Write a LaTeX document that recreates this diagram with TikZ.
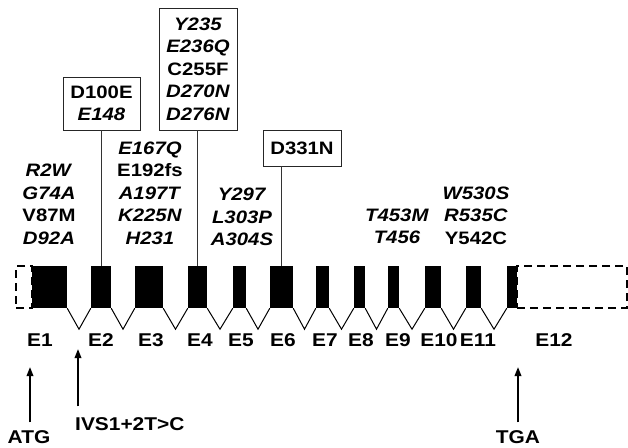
\documentclass[tikz,border=0pt]{standalone}
\usepackage{fontspec}
\setmainfont[FakeStretch=1.13]{Liberation Sans}
\usetikzlibrary{arrows.meta,calc}
\newcommand\mi[1]{\textit{#1}}
\begin{document}
\begin{tikzpicture}[x=1pt,y=-1pt,
  exon/.style={fill=black,inner sep=0,minimum height=42pt},
  utr/.style={draw,dash pattern=on 8pt off 5pt,line width=1.4pt,inner sep=0,minimum height=42pt},
  intron/.style={line width=1pt},
  mut/.style={font=\fontsize{18}{22.5}\selectfont\bfseries,align=center,inner sep=0},
  mbox/.style={mut,draw=black!85,line width=0.7pt},
  lbl/.style={font=\fontsize{18.5}{22}\selectfont\bfseries,inner sep=0},
  arr/.style={line width=1.8pt,-{Triangle[length=9pt,width=6.5pt]}},
  stem/.style={line width=0.7pt,draw=black!80}
]
\useasboundingbox (0,0) rectangle (628,447);
% exons
\node[utr,minimum width=16pt] (u5) at (24,287) {};
\node[utr,minimum width=110pt] (u3) at (572,287) {};
\node[exon,minimum width=35pt] (e1) at (49.5,287) {};
\node[exon,minimum width=20pt] (e2) at (101,287) {};
\node[exon,minimum width=28pt] (e3) at (149,287) {};
\node[exon,minimum width=19pt] (e4) at (197.5,287) {};
\node[exon,minimum width=13pt] (e5) at (239.5,287) {};
\node[exon,minimum width=23pt] (e6) at (281.5,287) {};
\node[exon,minimum width=13pt] (e7) at (322.5,287) {};
\node[exon,minimum width=11pt] (e8) at (359.5,287) {};
\node[exon,minimum width=11pt] (e9) at (393.5,287) {};
\node[exon,minimum width=16pt] (e10) at (433,287) {};
\node[exon,minimum width=15pt] (e11) at (473.5,287) {};
\node[exon,minimum width=10pt] (e12) at (512,287) {};
% introns
\foreach \a/\b in {e1/e2,e2/e3,e3/e4,e4/e5,e5/e6,e6/e7,e7/e8,e8/e9,e9/e10,e10/e11,e11/e12}
  \draw[intron] (\a.south east) -- ($(\a.south east)!.5!(\b.south west)+(0,21)$) -- (\b.south west);
% exon labels
\foreach \n/\x in {1/40,2/101,3/151,4/200,5/241,6/283,7/325,8/361,9/398,10/439,11/478,12/554}
  \node[lbl] (l\n) at (\x,340) {E\n};
% mutation columns
\node[mut] (c1) at (49,204.5) {\mi{R2W}\\\mi{G74A}\\V87M\\\mi{D92A}};
\node[mut] (c2) at (150,193) {\mi{E167Q}\\E192fs\\\mi{A197T}\\\mi{K225N}\\\mi{H231}};
\node[mut] (c3) at (242,217) {\mi{Y297}\\\mi{L303P}\\\mi{A304S}};
\node[mut] (c4) at (397,226.5) {\mi{T453M}\\\mi{T456}};
\node[mut] (c5) at (476,215.5) {\mi{W530S}\\\mi{R535C}\\Y542C};
% boxes
\node[mbox,minimum width=77pt,minimum height=53pt] (bD) at (101.5,103.5) {D100E\\\mi{E148}};
\node[mbox,minimum width=78pt,minimum height=122pt] (bY) at (198,69) {\mi{Y235}\\\mi{E236Q}\\C255F\\\mi{D270N}\\\mi{D276N}};
\node[mbox,minimum width=78pt,minimum height=36pt] (bN) at (302,148) {D331N};
\draw[stem] (bD.south -| e2.north) -- (e2.north);
\draw[stem] (bY.south -| e4.north) -- (e4.north);
\draw[stem] (bN.south -| e6.north) -- (e6.north);
% bottom labels and arrows
\node[lbl] (atg) at (29,437) {ATG};
\node[lbl,anchor=west] (ivs) at (75,424) {IVS1+2T>C};
\node[lbl] (tga) at (518,437) {TGA};
\coordinate (atgtip) at (30,367);
\coordinate (ivstip) at (78,349);
\coordinate (tgatip) at (518,367);
\draw[arr,shorten <=8pt] (atg.north -| atgtip) -- (atgtip);
\draw[arr,shorten <=11pt] (ivs.north -| ivstip) -- (ivstip);
\draw[arr,shorten <=8pt] (tga.north -| tgatip) -- (tgatip);
\end{tikzpicture}
\end{document}
